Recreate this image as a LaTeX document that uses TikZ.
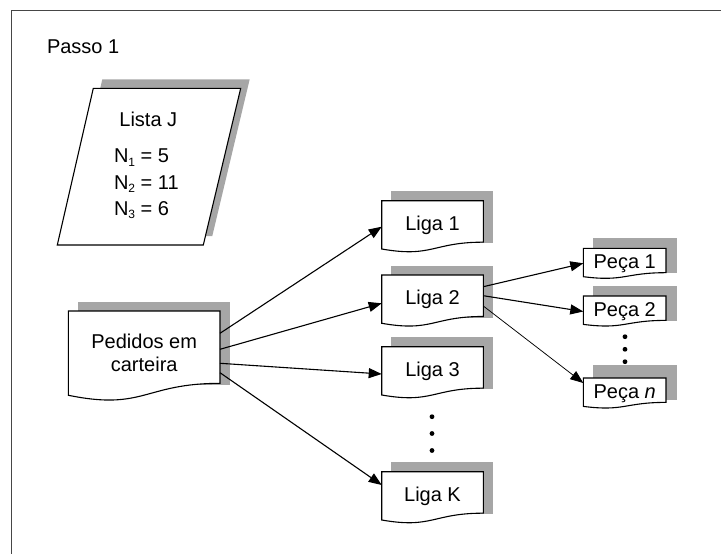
\documentclass[tikz,border=0pt]{standalone}
\usepackage{fontspec}
\setmainfont{Liberation Sans}
\usetikzlibrary{arrows.meta}
\definecolor{shadowgray}{RGB}{166,166,166}
\definecolor{framegray}{RGB}{70,70,70}
\tikzset{
  boxline/.style={draw=black,line width=1.1pt,line join=miter},
  anchorbox/.style={inner sep=0pt,outer sep=0pt,draw=none},
  txt/.style={inner sep=0pt,outer sep=0pt,font=\fontsize{20}{24}\selectfont},
  arr/.style={line width=1.1pt,-{Triangle[length=13pt,width=10pt]}},
  thinarr/.style={line width=0.75pt,-{Triangle[length=13pt,width=10pt]}},
  dotnode/.style={circle,fill=black,inner sep=0pt,minimum size=4.8pt},
  frameline/.style={draw=framegray,line width=1.6pt}
}
\newcommand\mydoc[5]{%
  \draw[boxline,fill=white] (#2,#3) -- ({#2+#4},#3) -- ({#2+#4},{#3+0.802*#5})
    .. controls ({#2+0.5*#4},{#3+0.802*#5}) and ({#2+0.5*#4},{#3+1.107*#5}) .. (#2,{#3+0.934*#5}) -- cycle;
  \node[anchorbox,minimum width=#4pt,minimum height={0.802*#5pt},anchor=north west] (#1) at (#2,#3) {};
}
\newcommand\myshadow[4]{\fill[shadowgray] (#1,#2) rectangle (#3,#4);}
\begin{document}
\begin{tikzpicture}[x=1pt,y=-1pt]
\useasboundingbox (0,0) rectangle (721,554);
% frame
\draw[frameline] (11.5,554) -- (11.5,10.5) -- (721,10.5);
\node[txt,anchor=base west] (passo) at (47,53) {Passo 1};
% Lista J parallelogram
\fill[shadowgray] (102.3,79.3) -- (249.7,79.3) -- (212.3,236) -- (66.3,236) -- cycle;
\draw[boxline,fill=white] (93.3,88.3) -- (240.7,88.3) -- (203.3,245) -- (57.3,245) -- cycle;
\node[txt,anchor=base] (lista) at (148.3,126.7) {Lista J};
\node[txt,anchor=base west] (n1) at (114,162.7) {N\raisebox{-3.5pt}{\fontsize{12}{12}\selectfont 1} = 5};
\node[txt,anchor=base west] (n2) at (114,189) {N\raisebox{-3.5pt}{\fontsize{12}{12}\selectfont 2} = 11};
\node[txt,anchor=base west] (n3) at (114,215) {N\raisebox{-3.5pt}{\fontsize{12}{12}\selectfont 3} = 6};
% Pedidos em carteira
\myshadow{78.3}{301.7}{230}{385}
\mydoc{ped}{68.3}{311}{151.7}{90.2}
\node[txt,anchor=base] (pedt1) at (144.2,348.3) {Pedidos em};
\node[txt,anchor=base] (pedt2) at (144.2,371.7) {carteira};
% Liga boxes
\myshadow{391.2}{191.2}{493.3}{243.2}
\mydoc{l1}{381.7}{200.7}{101.6}{51.7}
\node[txt,anchor=base] (l1t) at (432.5,230) {Liga 1};
\myshadow{391.2}{265.5}{493.3}{317.5}
\mydoc{l2}{381.7}{275}{101.6}{51.7}
\node[txt,anchor=base] (l2t) at (432.5,304.3) {Liga 2};
\myshadow{391.2}{337.2}{493.3}{389.2}
\mydoc{l3}{381.7}{346.7}{101.6}{51.7}
\node[txt,anchor=base] (l3t) at (432.5,376) {Liga 3};
\myshadow{391.2}{462.2}{493.3}{514.2}
\mydoc{lk}{381.7}{471.7}{101.6}{51.7}
\node[txt,anchor=base] (lkt) at (432.5,501) {Liga K};
\node[dotnode] (ld1) at (432,416.7) {};
\node[dotnode] (ld2) at (432,433.5) {};
\node[dotnode] (ld3) at (432,450.5) {};
% Peca boxes
\myshadow{593.3}{238.3}{676.7}{272.8}
\mydoc{p1}{583.3}{248.3}{82.7}{30.4}
\node[txt,anchor=base] (p1t) at (624.7,268.3) {Peça 1};
\myshadow{593.3}{286}{676.7}{320.5}
\mydoc{p2}{583.3}{296}{82.7}{30.4}
\node[txt,anchor=base] (p2t) at (624.7,316) {Peça 2};
\myshadow{593.3}{365}{676.7}{400}
\mydoc{pn}{583.3}{378}{82.7}{30.4}
\node[txt,anchor=base] (pnt) at (624.7,398) {Peça \textit{n}};
\node[dotnode] (pd1) at (625,336.7) {};
\node[dotnode] (pd2) at (625,349.3) {};
\node[dotnode] (pd3) at (625,361.7) {};
% connectors
\draw[arr] ([yshift=-22.3pt]ped.north east) -- ([yshift=-26pt]l1.north west);
\draw[arr] ([yshift=-38.3pt]ped.north east) -- ([yshift=-28.3pt]l2.north west);
\draw[arr] ([yshift=-52.3pt]ped.north east) -- ([yshift=-27.3pt]l3.north west);
\draw[arr] ([yshift=-61.7pt]ped.north east) -- ([yshift=-13.3pt]lk.north west);
\draw[arr] ([yshift=-11.7pt]l2.north east) -- ([yshift=-15pt]p1.north west);
\draw[arr] ([yshift=-20.7pt]l2.north east) -- ([yshift=-15.5pt]p2.north west);
\draw[thinarr] ([yshift=-31pt]l2.north east) -- ([yshift=-5pt]pn.north west);
\end{tikzpicture}
\end{document}
